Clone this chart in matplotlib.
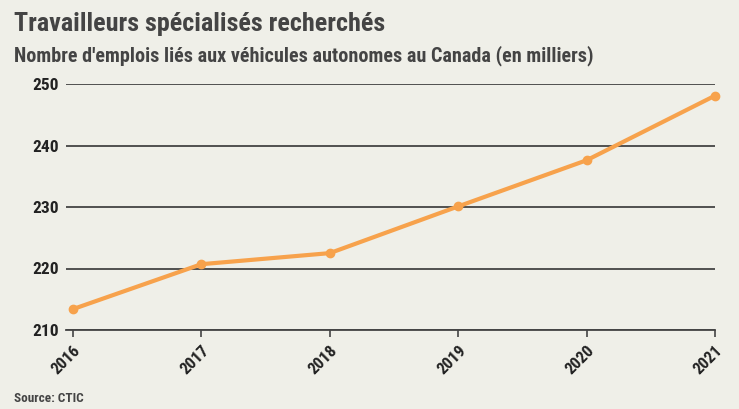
import matplotlib.pyplot as plt

years = [2016, 2017, 2018, 2019, 2020, 2021]
emplois = [213.4, 220.7, 222.5, 230.1, 237.6, 248.1]
yticks = [210, 220, 230, 240, 250]

bg = '#efefe8'
plt.rcParams['font.family'] = ['Roboto Condensed', 'DejaVu Sans']

fig = plt.figure(figsize=(7.39, 4.09), dpi=100, facecolor=bg)
ax = fig.add_axes([66/739, 1 - 330/409, (715 - 66)/739, (330 - 84)/409], facecolor=bg)

ax.plot(years, emplois, color='#f7a24c', lw=3, marker='o', ms=6, clip_on=False, zorder=3)

ax.set_ylim(210, 250)
ax.set_xlim(2016 - 7/128.4, 2021)
ax.set_yticks(yticks)
ax.set_xticks(years)
ax.set_xticklabels([str(y) for y in years], rotation=45, ha='right', va='top',
                   rotation_mode='anchor', fontsize=12, fontweight='bold', color='#222222')
ax.set_yticklabels([str(v) for v in yticks], fontsize=12.5, fontweight='bold', color='#222222')
ax.grid(axis='y', color='#444444', lw=1.3)
ax.tick_params(axis='y', length=0, pad=5)
ax.tick_params(axis='x', length=5, width=1.2, color='#444444', pad=4)
for s in ['top', 'right', 'left']:
    ax.spines[s].set_visible(False)
ax.spines['bottom'].set_color('#444444')
ax.spines['bottom'].set_linewidth(1.3)

fig.text(14/739, 1 - 24/409, 'Travailleurs spécialisés recherchés', fontsize=18.8,
         fontweight='bold', color='#444444', va='center')
fig.text(14/739, 1 - 56/409, "Nombre d'emplois liés aux véhicules autonomes au Canada (en milliers)",
         fontsize=14.5, fontweight='bold', color='#444444', va='center')
fig.text(14/739, 1 - 398/409, 'Source: CTIC', fontsize=9.5, fontweight='bold',
         color='#444444', va='center')

plt.savefig('out.png', dpi=100, facecolor=bg)
